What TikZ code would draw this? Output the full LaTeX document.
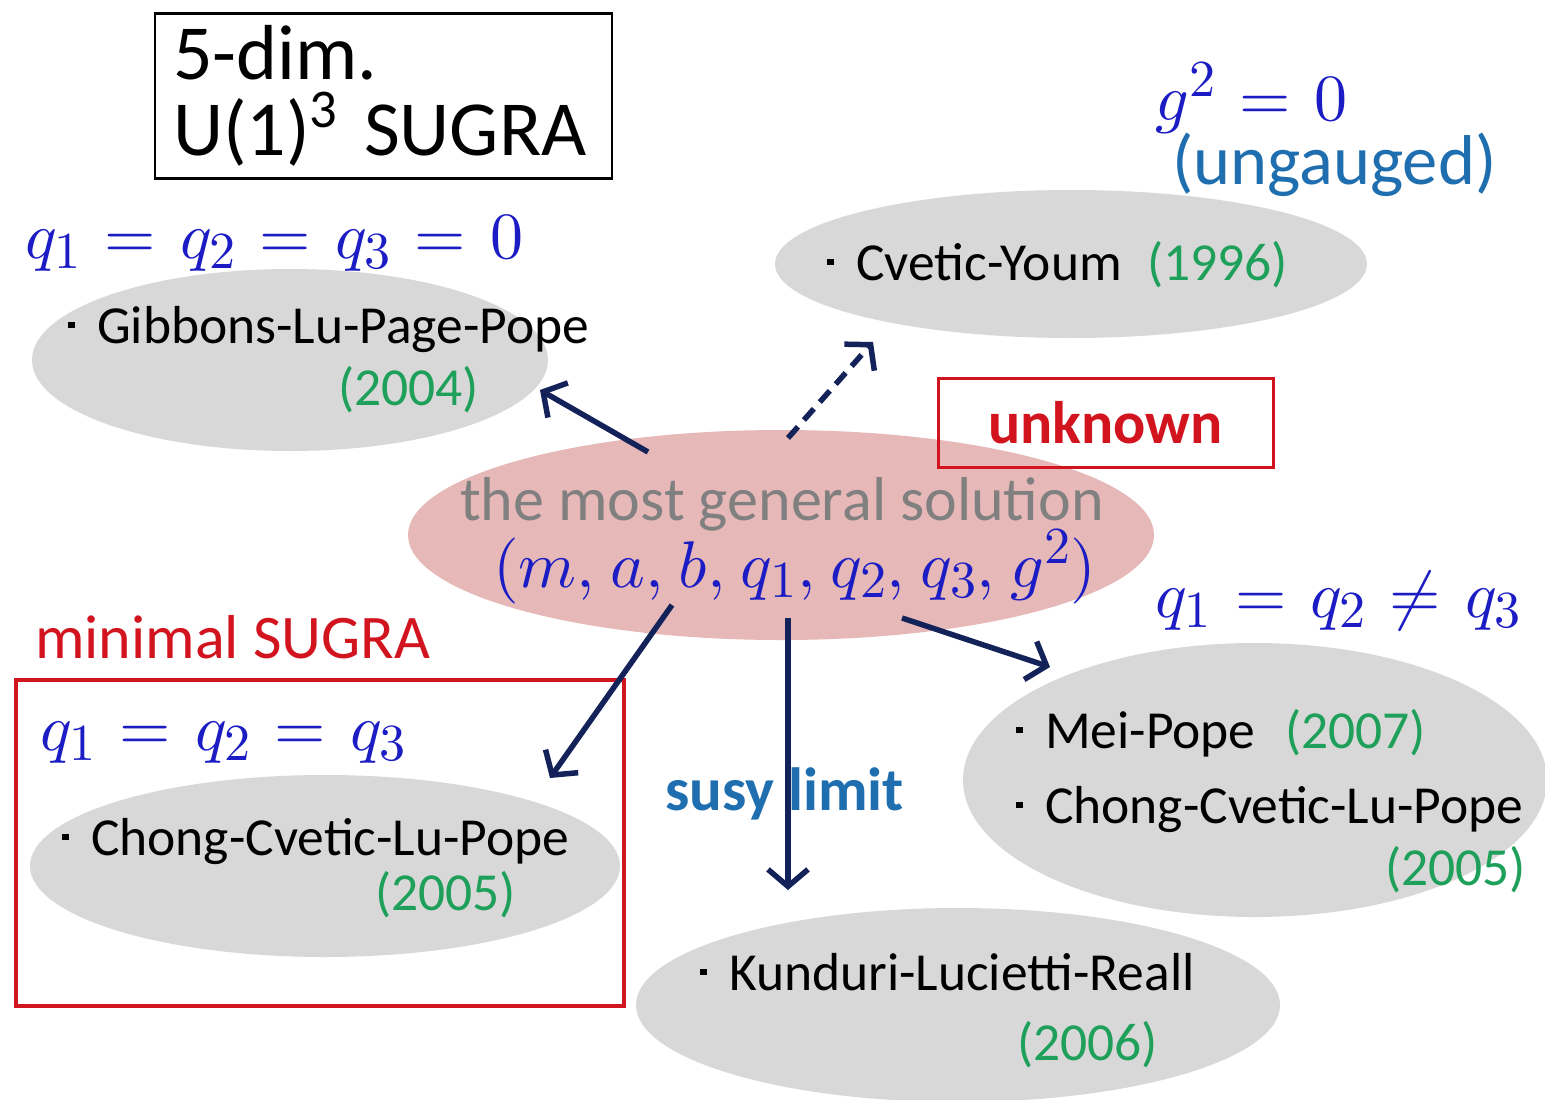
\RequirePackage{fix-cm}
\documentclass[tikz,border=0pt]{standalone}
\usepackage[no-math]{fontspec}
\setmainfont{Carlito}
\usetikzlibrary{arrows.meta,shapes.geometric}
% math in the 10pt design at every size
\DeclareFontShape{OML}{cmm}{m}{it}{<->cmmi10}{}
\DeclareFontShape{OT1}{cmr}{m}{n}{<->cmr10}{}
\DeclareFontShape{OMS}{cmsy}{m}{n}{<->cmsy10}{}
\DeclareMathSizes{66}{66}{52}{40}
\definecolor{ovalgray}{RGB}{216,216,216}
\definecolor{genpink}{RGB}{230,184,183}
\definecolor{gentext}{RGB}{128,128,128}
\definecolor{mathblue}{RGB}{28,28,196}
\definecolor{yrgreen}{RGB}{30,160,90}
\definecolor{boxred}{RGB}{210,20,30}
\definecolor{teal}{RGB}{31,110,175}
\definecolor{arrnavy}{RGB}{20,34,90}
\newcommand{\bul}{\raisebox{0.28em}{\rule{0.12em}{0.12em}}\hspace{0.42em}}
\newcommand{\wide}{\thickmuskip=6.5mu plus 5mu\thinmuskip=4.2mu}

\begin{document}
\begin{tikzpicture}[x=1pt,y=-1pt,
  oval/.style={ellipse,fill=ovalgray,inner sep=0pt},
  who/.style={anchor=base west,inner sep=0pt,font=\fontsize{53.5}{53.5}\selectfont},
  yr/.style={who,text=yrgreen},
  cond/.style={anchor=base west,inner sep=0pt,text=mathblue,font=\fontsize{66}{66}\selectfont\wide},
  arr/.style={draw=arrnavy,line width=5.5pt,-{Straight Barb[length=17pt,width=40pt]}}]
  \fill[white] (0,0) rectangle (1545,1100);
  \useasboundingbox (0,0) rectangle (1545,1100);
  % the solutions
  \node[oval,minimum width=516pt,minimum height=182pt] (glpp) at (290,360) {};
  \node[oval,minimum width=592pt,minimum height=148pt] (cy) at (1071,264) {};
  \node[oval,minimum width=590pt,minimum height=182pt] (ccl) at (325,866) {};
  \node[oval,minimum width=584pt,minimum height=274pt] (mp) at (1255,780) {};
  \node[oval,minimum width=644pt,minimum height=194pt] (klr) at (958,1005) {};
  \node[ellipse,fill=genpink,minimum width=746pt,minimum height=210pt] (gen) at (781,535) {};
  \node[who] (glppT) at (68,343) {\bul Gibbons-Lu-Page-Pope};
  \node[yr] (glppY) at (338,405) {(2004)};
  \node[who] (cyT) at (827,280) {\bul Cvetic-Youm};
  \node[yr] (cyY) at (1147,280) {(1996)};
  \node[who] (cclT) at (62,855) {\bul Chong-Cvetic-Lu-Pope};
  \node[yr] (cclY) at (375,910) {(2005)};
  \node[who] (mpT) at (1016,748) {\bul Mei-Pope};
  \node[yr] (mpY) at (1285,748) {(2007)};
  \node[who] (ccrT) at (1016,823) {\bul Chong-Cvetic-Lu-Pope};
  \node[yr] (ccrY) at (1385,885) {(2005)};
  \node[who] (klrT) at (700,990) {\bul Kunduri-Lucietti-Reall};
  \node[yr] (klrY) at (1017,1060) {(2006)};
  % the general one
  \node[anchor=base west,inner sep=0pt,text=gentext,font=\fontsize{62}{62}\selectfont] (genT) at (460,520) {the most general solution};
  \node[cond] (genP) at (493,587) {$(m,a,b,q_1,q_2,q_3,g^2)$};
  % boxes and labels
  \node[draw,line width=2.5pt,minimum width=457pt,minimum height=165pt,text width=421pt,inner sep=0pt,align=left,font=\fontsize{78}{76}\selectfont] (dim) at (383.5,96) {5-dim.\\U(1)\textsuperscript{3} SUGRA};
  \node[draw=boxred,line width=3pt,minimum width=335pt,minimum height=89pt,text=boxred,font=\bfseries\fontsize{60}{60}\selectfont] (unk) at (1105.5,422.5) {unknown};
  \node[draw=boxred,line width=4pt,minimum width=608pt,minimum height=326pt] (minbox) at (320,843) {};
  \node[anchor=base west,inner sep=0pt,text=boxred,font=\fontsize{62}{62}\selectfont] (minT) at (35,658) {minimal SUGRA};
  \node[cond] (c0) at (25,258) {$q_1=q_2=q_3=0$};
  \node[cond] (cg) at (1155,120) {$g^2=0$};
  \node[anchor=base west,inner sep=0pt,text=teal,font=\fontsize{70.5}{70.5}\selectfont] (ung) at (1172,184) {(ungauged)};
  \node[cond] (ceq) at (40,750) {$q_1=q_2=q_3$};
  \node[cond] (cne) at (1155,617) {$q_1=q_2\neq q_3$};
  \node[anchor=base west,inner sep=0pt,text=teal,font=\bfseries\fontsize{61}{61}\selectfont] (susy) at (665,810) {susy limit};
  % arrows
  \coordinate (a1) at (648,452); \coordinate (b1) at (540,390);
  \coordinate (a2) at (788,438); \coordinate (b2) at (873,342);
  \coordinate (a3) at (672,605); \coordinate (b3) at (550,778);
  \coordinate (a4) at (788,618); \coordinate (b4) at (788,890);
  \coordinate (a5) at (902,618); \coordinate (b5) at (1050,667);
  \draw[arr] (a1) -- (b1);
  \draw[arr,dash pattern=on 15pt off 9pt] (a2) -- (b2);
  \draw[arr] (a3) -- (b3);
  \draw[arr] (a4) -- (b4);
  \draw[arr] (a5) -- (b5);
\end{tikzpicture}
\end{document}
